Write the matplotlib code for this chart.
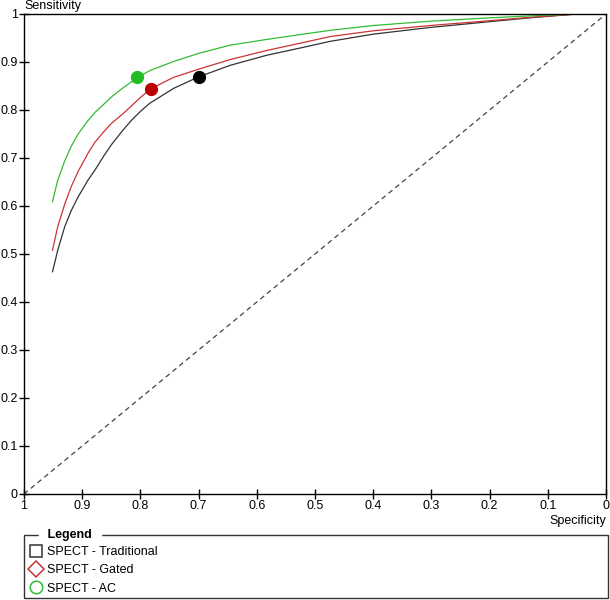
import numpy as np
import matplotlib.pyplot as plt
from matplotlib.lines import Line2D
from matplotlib.patches import Rectangle

plt.rcParams['font.family'] = ['Liberation Sans', 'DejaVu Sans']

spec = [0.951, 0.942, 0.930, 0.919, 0.907, 0.890, 0.878, 0.862, 0.849, 0.830,
        0.815, 0.800, 0.784, 0.743, 0.700, 0.646, 0.583, 0.526, 0.474, 0.40,
        0.302, 0.20, 0.131, 0.05]
sens_trad = [0.463, 0.508, 0.557, 0.590, 0.619, 0.654, 0.675, 0.706, 0.729, 0.758,
             0.779, 0.797, 0.814, 0.845, 0.869, 0.893, 0.914, 0.929, 0.943, 0.958,
             0.972, 0.984, 0.992, 1.0]
sens_gated = [0.508, 0.557, 0.604, 0.640, 0.672, 0.710, 0.733, 0.756, 0.773, 0.792,
              0.809, 0.826, 0.843, 0.868, 0.885, 0.905, 0.924, 0.939, 0.953, 0.965,
              0.976, 0.986, 0.993, 1.0]
sens_ac = [0.609, 0.654, 0.694, 0.724, 0.750, 0.778, 0.795, 0.813, 0.828, 0.846,
           0.859, 0.871, 0.882, 0.901, 0.918, 0.935, 0.947, 0.957, 0.966, 0.976,
           0.985, 0.992, 0.996, 1.0]

points_spec = [0.700, 0.781, 0.805]
points_sens = [0.869, 0.843, 0.869]

names = ['SPECT - Traditional', 'SPECT - Gated', 'SPECT - AC']
line_cols = ['#333333', '#cc3333', '#33bb33']
dot_cols = ['#000000', '#bb0000', '#22bb22']
leg_markers = ['s', 'D', 'o']

fig = plt.figure(figsize=(6.1, 6.0), dpi=100)
ax = fig.add_axes([24/610, 1-494/600, 582/610, 480/600])

ax.plot([1, 0], [0, 1], color='#444444', lw=0.9, ls=(0, (4, 3)))
for s, c in zip([sens_trad, sens_gated, sens_ac], line_cols):
    ax.plot(spec, s, color=c, lw=0.9)
for x, y, c in zip(points_spec, points_sens, dot_cols):
    ax.plot(x, y, 'o', color=c, ms=8.5, zorder=5)

ax.set_xlim(1, 0)
ax.set_ylim(0, 1)
ticks = np.round(np.arange(0, 1.01, 0.1), 1)
labels = [f'{t:g}' for t in ticks]
ax.set_xticks(ticks)
ax.set_yticks(ticks)
ax.set_xticklabels(labels)
ax.set_yticklabels(labels)
ax.tick_params(direction='inout', length=7, width=1, labelsize=9, pad=1)
for sp in ax.spines.values():
    sp.set_linewidth(1)

fig.text(24/610, 1-6/600, 'Sensitivity', fontsize=9, va='center', ha='left')
fig.text(606/610, 1-521/600, 'Specificity', fontsize=9, va='center', ha='right')

# legend box
fig.patches.append(Rectangle((24/610, 1-598/600), 584/610, 63/600,
                             transform=fig.transFigure, fill=False,
                             edgecolor='#333333', lw=1))
fig.text(44/610, 1-535/600, ' Legend ', fontsize=9, fontweight='bold',
         va='center', ha='left', backgroundcolor='white')
handles = [Line2D([], [], ls='none', marker=m, ms=9 if m != 'D' else 8,
                  mfc='none', mec=c, mew=1.1)
           for c, m in zip(line_cols, leg_markers)]
fig.legend(handles, names, loc='upper left', bbox_to_anchor=(30/610, 1-546/600),
           frameon=False, fontsize=9, handlelength=1.0, handletextpad=0.35,
           labelspacing=0.5, borderpad=0, borderaxespad=0)

fig.savefig('out.png', dpi=100)
